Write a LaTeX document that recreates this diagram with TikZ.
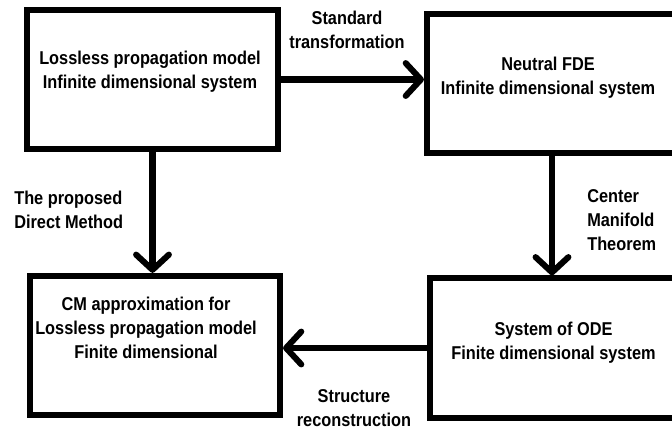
\documentclass[tikz,border=0pt]{standalone}
\usepackage{fontspec}
\setmainfont{Liberation Sans}[FakeStretch=0.88]
\usetikzlibrary{arrows.meta}

\begin{document}
\begin{tikzpicture}[x=0.025cm, y=-0.025cm,
    box/.style={draw, line width=4.3pt, minimum height=3.48cm, inner sep=0pt},
    txt/.style={align=center, inner sep=0pt, font=\fontsize{13.2}{17}\selectfont\bfseries},
    arr/.style={line width=4.3pt, -{Straight Barb[length=0.38cm, width=0.82cm, round]}}]
      \useasboundingbox (0,0) rectangle (672,430);
      \clip (0,0) rectangle (672,430);

      \node[box, minimum width=6.28cm](A) at (152.5, 79.5){};
      \node[box, minimum width=6.25cm](B) at (552.0, 83.5){};
      \node[box, minimum width=6.25cm](C) at (155.0,345.5){};
      \node[box, minimum width=6.15cm](D) at (553.0,348.0){};

      \node[txt](Atxt) at (150.0, 72.0){Lossless propagation model\\Infinite dimensional system};
      \node[txt](Btxt) at (548.0, 77.5){Neutral FDE\\Infinite dimensional system};
      \node[txt](Ctxt) at (146.0,328.0){CM approximation for\\Lossless propagation model\\Finite dimensional};
      \node[txt](Dtxt) at (553.5,342.5){System of ODE\\Finite dimensional system};

      \draw[arr] (A.east) -- (A.east -| B.west);
      \draw[arr] (A.south) -- (A.south |- C.north);
      \draw[arr] (B.south) -- (B.south |- D.north);
      \draw[arr] (D.west) -- (D.west -| C.east);

      \node[txt](std) at (347.0, 30.0){Standard\\transformation};
      \node[txt, anchor=west, align=left](dir) at ( 14.0,209.5){The proposed\\Direct Method};
      \node[txt, anchor=west, align=left](cmt) at (587.0,220.0){Center\\Manifold\\Theorem};
      \node[txt](rec) at (354.0,408.5){Structure\\reconstruction};
    \end{tikzpicture}
\end{document}
